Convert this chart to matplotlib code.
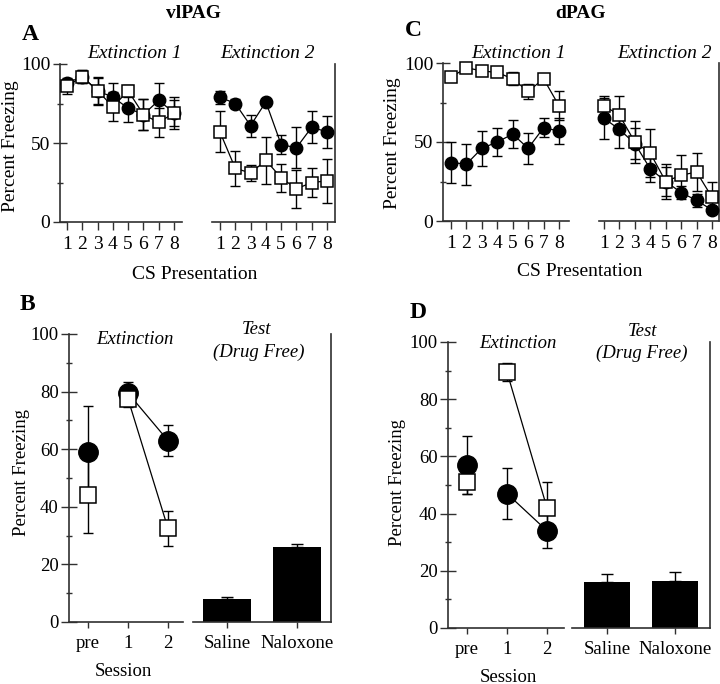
import matplotlib
matplotlib.use("Agg")
import matplotlib.pyplot as plt
import numpy as np

plt.rcParams['font.family'] = ['Liberation Serif', 'DejaVu Serif']

# ---- data ----
trials = [1, 2, 3, 4, 5, 6, 7, 8]

# vlPAG (A)
a_e1_fill = [88, 92, 83, 79, 72, 68, 77, 69]
a_e1_fill_err = [2, 4, 8, 9, 9, 10, 11, 10]
a_e1_open = [86, 92, 83, 73, 83, 68, 63, 69]
a_e1_open_err = [5, 4, 9, 9, 4, 10, 9, 8]
a_e2_fill = [79, 75, 61, 76, 49, 47, 60, 57]
a_e2_fill_err = [4, 3, 7, 2, 6, 13, 10, 10]
a_e2_open = [57, 34, 31, 39, 28, 21, 25, 26]
a_e2_open_err = [13, 11, 5, 15, 9, 12, 9, 14]

# dPAG (C)
c_e1_fill = [37, 36, 46, 50, 55, 46, 59, 57]
c_e1_fill_err = [13, 13, 11, 9, 9, 10, 6, 8]
c_e1_open = [91, 97, 95, 94, 90, 82, 90, 73]
c_e1_open_err = [2, 1, 1, 1, 4, 5, 3, 9]
c_e2_fill = [65, 58, 49, 33, 25, 18, 13, 7]
c_e2_fill_err = [13, 12, 10, 8, 9, 4, 4, 2]
c_e2_open = [73, 67, 50, 43, 25, 29, 31, 15]
c_e2_open_err = [6, 12, 13, 15, 11, 13, 12, 10]

sessions = ['pre', '1', '2']
drugs = ['Saline', 'Naloxone']

# vlPAG (B)
b_fill = [59, 79.5, 63]
b_fill_err = [16, 4, 5.5]
b_open = [44, 77.5, 32.5]
b_open_err = [13, 3, 6]
b_bars = [8, 26]
b_bars_err = [0.6, 1.2]

# dPAG (D)
d_fill = [57, 47, 34]
d_fill_err = [10, 9, 6]
d_open = [51, 89.5, 42]
d_open_err = [4, 3, 9]
d_bars = [16, 16.5]
d_bars_err = [3, 3.2]

W, H = 720, 684
fig = plt.figure(figsize=(W / 100, H / 100), dpi=100)

spc = '#303030'
FS_TOP = 14
FS_BOT = 13.5


def px_axes(x0, y0, x1, y1):
    # pixel box (left, top, right, bottom) -> figure axes
    return fig.add_axes([x0 / W, 1 - y1 / H, (x1 - x0) / W, (y1 - y0) / H])


def ftext(x, y, s, **kw):
    fig.text(x / W, 1 - y / H, s, ha='center', va='center', **kw)


def style(ax, left, right):
    for s in ['top', 'left', 'right', 'bottom']:
        ax.spines[s].set_visible(False)
    ax.spines['bottom'].set_visible(True)
    ax.spines['bottom'].set_color(spc)
    ax.spines['bottom'].set_linewidth(1.2)
    if left:
        ax.spines['left'].set_visible(True)
        ax.spines['left'].set_color(spc)
        ax.spines['left'].set_linewidth(1.2)
    else:
        ax.tick_params(axis='y', left=False, labelleft=False)
        ax.set_yticks([])
    if right:
        ax.spines['right'].set_visible(True)
        ax.spines['right'].set_color(spc)
        ax.spines['right'].set_linewidth(1.2)
    ax.patch.set_alpha(0)


def series(ax, x, y, e, filled, ms, line=True):
    if filled:
        kw = dict(marker='o', mfc='black', mec='black', ms=ms)
    else:
        kw = dict(marker='s', mfc='white', mec='black', ms=ms, mew=1.1)
    ax.errorbar(x, y, yerr=e, fmt='none', ecolor='black', elinewidth=1,
                capsize=3.5, capthick=1, zorder=2, clip_on=False)
    ax.plot(x, y, color='black', lw=0.9 if line else 0, zorder=3,
            clip_on=False, **kw)


def line_panel(xl, xr, top, bot, xlim, fill, fill_err, opn, opn_err, left, right):
    ax = px_axes(xl, top, xr, bot)
    ax.set_xlim(*xlim)
    ax.set_ylim(0, 100)
    style(ax, left, right)
    series(ax, trials, fill, fill_err, True, 9)
    series(ax, trials, opn, opn_err, False, 9)
    ax.set_xticks(trials)
    ax.set_xticklabels([str(t) for t in trials])
    ax.tick_params(axis='x', direction='out', length=6, width=1, color=spc,
                   labelsize=FS_TOP, pad=4)
    if left:
        ax.set_yticks([0, 50, 100])
        ax.set_yticks([25, 75], minor=True)
        ax.tick_params(axis='y', which='major', direction='inout', length=10,
                       width=1, color=spc, labelsize=FS_TOP, pad=2)
        ax.tick_params(axis='y', which='minor', direction='inout', length=5,
                       width=1, color=spc)
    return ax


# ---- panel A ----
line_panel(60, 182, 64, 222, (0.54, 8.52), a_e1_fill, a_e1_fill_err,
           a_e1_open, a_e1_open_err, True, False)
line_panel(212, 335, 64, 222, (0.48, 8.52), a_e2_fill, a_e2_fill_err,
           a_e2_open, a_e2_open_err, False, True)

# ---- panel C ----
line_panel(443, 569, 63, 221, (0.48, 8.65), c_e1_fill, c_e1_fill_err,
           c_e1_open, c_e1_open_err, True, False)
line_panel(599, 719, 63, 221, (0.68, 8.45), c_e2_fill, c_e2_fill_err,
           c_e2_open, c_e2_open_err, False, True)


def session_panel(xl, xr, xl2, xr2, top, bot, xlim, xlim2, fill, fill_err,
                  opn, opn_err, bars, bars_err, bar_w):
    ax = px_axes(xl, top, xr, bot)
    ax.set_xlim(*xlim)
    ax.set_ylim(0, 100)
    style(ax, True, False)
    xs = np.arange(len(sessions))
    # pre points are not joined to the sessions
    series(ax, xs[:1], fill[:1], fill_err[:1], True, 14, line=False)
    series(ax, xs[1:], fill[1:], fill_err[1:], True, 14)
    series(ax, xs[:1], opn[:1], opn_err[:1], False, 12, line=False)
    series(ax, xs[1:], opn[1:], opn_err[1:], False, 12)
    ax.set_xticks(xs)
    ax.set_xticklabels(sessions)
    ax.tick_params(axis='x', direction='out', length=4, width=1, color=spc,
                   labelsize=FS_BOT, pad=5)
    ax.set_yticks([0, 20, 40, 60, 80, 100])
    ax.set_yticks([10, 30, 50, 70, 90], minor=True)
    ax.tick_params(axis='y', which='major', direction='inout', length=11,
                   width=1, color=spc, labelsize=FS_BOT, pad=2)
    ax.tick_params(axis='y', which='minor', direction='inout', length=5,
                   width=1, color=spc)

    ax2 = px_axes(xl2, top, xr2, bot)
    ax2.set_xlim(*xlim2)
    ax2.set_ylim(0, 100)
    style(ax2, False, True)
    xb = np.arange(len(drugs))
    ax2.bar(xb, bars, width=bar_w, color='black', zorder=2)
    ax2.errorbar(xb, bars, yerr=[[0] * len(bars), bars_err], fmt='none',
                 ecolor='black', elinewidth=1, capsize=4, capthick=1, zorder=1)
    ax2.set_xticks(xb)
    ax2.set_xticklabels(drugs)
    ax2.tick_params(axis='x', direction='out', length=4, width=1, color=spc,
                    labelsize=FS_BOT, pad=5)
    return ax, ax2


# ---- panel B ----
session_panel(69, 183, 193, 331, 334, 622, (-0.475, 2.375), (-0.486, 1.486),
              b_fill, b_fill_err, b_open, b_open_err, b_bars, b_bars_err, 0.69)

# ---- panel D ----
session_panel(448, 564, 572, 710, 342, 628, (-0.475, 2.425), (-0.515, 1.515),
              d_fill, d_fill_err, d_open, d_open_err, d_bars, d_bars_err, 0.69)

# ---- texts ----
ftext(193, 14, 'vlPAG', fontsize=14, fontweight='bold')
ftext(580, 14, 'dPAG', fontsize=14, fontweight='bold')
ftext(30, 34, 'A', fontsize=17, fontweight='bold')
ftext(413, 31, 'C', fontsize=17, fontweight='bold')
ftext(27, 304, 'B', fontsize=17, fontweight='bold')
ftext(418, 312, 'D', fontsize=17, fontweight='bold')

ftext(134, 53, 'Extinction 1', fontsize=FS_TOP, style='italic')
ftext(267, 53, 'Extinction 2', fontsize=FS_TOP, style='italic')
ftext(518, 53, 'Extinction 1', fontsize=FS_TOP, style='italic')
ftext(664, 53, 'Extinction 2', fontsize=FS_TOP, style='italic')

ftext(11, 146, 'Percent Freezing', fontsize=FS_TOP, rotation=90)
ftext(393, 143, 'Percent Freezing', fontsize=FS_TOP, rotation=90)
ftext(195, 274, 'CS Presentation', fontsize=FS_TOP)
ftext(580, 272, 'CS Presentation', fontsize=FS_TOP)

ftext(135, 340, 'Extinction', fontsize=FS_BOT, style='italic')
ftext(257, 330, 'Test', fontsize=FS_BOT, style='italic')
ftext(259, 352, '(Drug Free)', fontsize=FS_BOT, style='italic')
ftext(22, 473, 'Percent Freezing', fontsize=FS_BOT, rotation=90)
ftext(123, 672, 'Session', fontsize=FS_BOT)

ftext(518, 343, 'Extinction', fontsize=FS_BOT, style='italic')
ftext(643, 332, 'Test', fontsize=FS_BOT, style='italic')
ftext(642, 353, '(Drug Free)', fontsize=FS_BOT, style='italic')
ftext(398, 482, 'Percent Freezing', fontsize=FS_BOT, rotation=90)
ftext(508, 677, 'Session', fontsize=FS_BOT)

fig.savefig('out.png', dpi=100)
